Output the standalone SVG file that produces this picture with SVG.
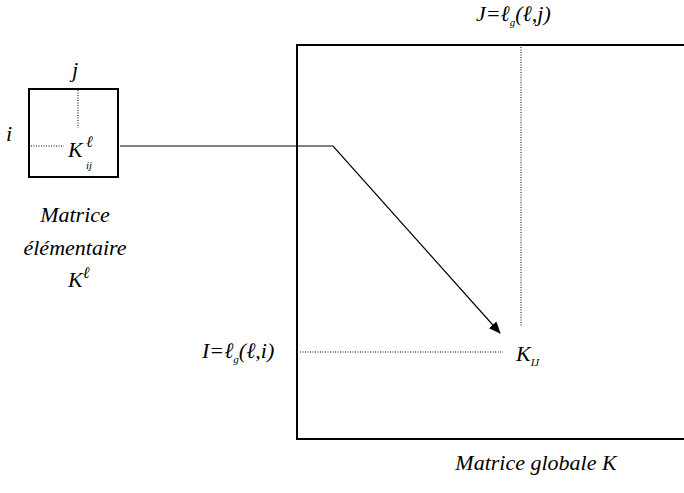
<svg xmlns="http://www.w3.org/2000/svg" width="684" height="493" viewBox="0 0 684 493">
<style>
.frame{fill:none;stroke:#000;stroke-width:2}
.dot{fill:none;stroke:#000;stroke-width:1;stroke-dasharray:1,1.5}
.conn{fill:none;stroke:#000;stroke-width:1.2}
</style>
<defs>
<marker id="ah" markerWidth="12" markerHeight="10" refX="11" refY="5" orient="auto" markerUnits="userSpaceOnUse">
<path d="M0,0 L12,5 L0,10 Z" fill="#000"/>
</marker>
</defs>
<g id="elem">
<rect class="frame" x="29" y="89" width="89" height="88"/>
<line class="dot" x1="78" y1="90" x2="78" y2="128"/>
<line class="dot" x1="31" y1="146" x2="64" y2="146"/>
<text x="72" y="77" style="font-family:'Liberation Serif','Times New Roman',serif;font-style:italic;font-size:22px">j</text>
<text x="6" y="141" style="font-family:'Liberation Serif','Times New Roman',serif;font-style:italic;font-size:22px">i</text>
<text x="68" y="157" style="font-family:'Liberation Serif','Times New Roman',serif;font-style:italic;font-size:22px">K</text>
<text x="86" y="147" style="font-family:'Liberation Serif','Times New Roman',serif;font-style:italic;font-size:16px">ℓ</text>
<text x="86" y="169" style="font-family:'Liberation Serif','Times New Roman',serif;font-style:italic;font-size:11px">ij</text>
<text x="75" y="222" text-anchor="middle" style="font-family:'Liberation Serif','Times New Roman',serif;font-style:italic;font-size:22px">Matrice</text>
<text x="75" y="255" text-anchor="middle" style="font-family:'Liberation Serif','Times New Roman',serif;font-style:italic;font-size:22px">élémentaire</text>
<text x="68" y="287" style="font-family:'Liberation Serif','Times New Roman',serif;font-style:italic;font-size:22px">K<tspan dy="-9" style="font-size:16px">ℓ</tspan></text>
</g>
<g id="glob">
<path class="frame" d="M684,45 H297 V439 H684"/>
<line class="dot" x1="521" y1="47" x2="521" y2="327"/>
<line class="dot" x1="300" y1="352" x2="503" y2="352"/>
<text x="476" y="21" style="font-family:'Liberation Serif','Times New Roman',serif;font-style:italic;font-size:22px">J=ℓ<tspan dy="5" style="font-size:11px">g</tspan><tspan dy="-5">(ℓ,j)</tspan></text>
<text x="202" y="358" style="font-family:'Liberation Serif','Times New Roman',serif;font-style:italic;font-size:22px">I=ℓ<tspan dy="5" style="font-size:11px">g</tspan><tspan dy="-5">(ℓ,i)</tspan></text>
<text x="516" y="361" style="font-family:'Liberation Serif','Times New Roman',serif;font-style:italic;font-size:22px">K<tspan dy="5" style="font-size:11px">IJ</tspan></text>
<text x="536" y="470" text-anchor="middle" style="font-family:'Liberation Serif','Times New Roman',serif;font-style:italic;font-size:22px">Matrice globale K</text>
</g>
<g id="connectors">
<path class="conn" d="M120,146 H333 L500,333" marker-end="url(#ah)"/>
</g>
</svg>
